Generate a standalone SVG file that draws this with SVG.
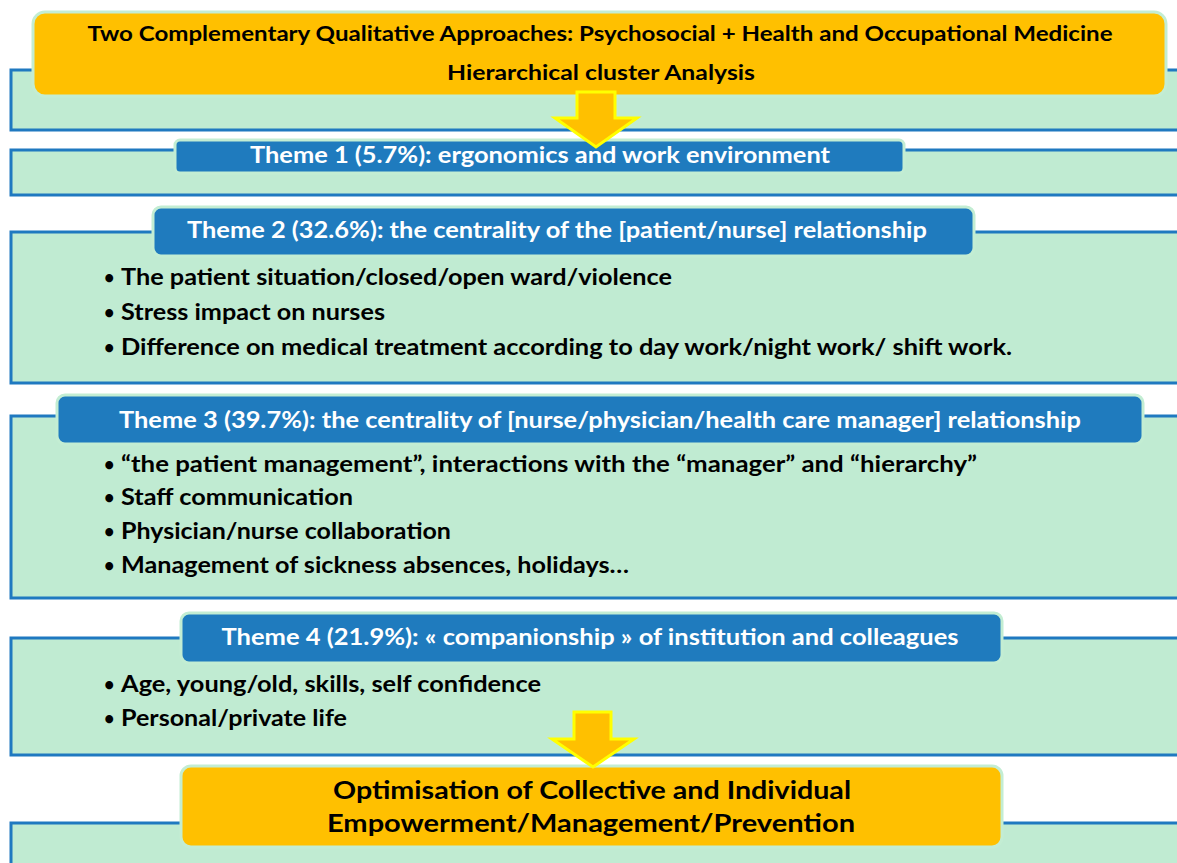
<svg xmlns="http://www.w3.org/2000/svg" width="1177" height="863" viewBox="0 0 1177 863">
<defs>
<style>
.panel{fill:#C0EBD2;stroke:#1F79C0;stroke-width:3}
.theme{fill:#1F7BBE;stroke:#C3EDD3;stroke-width:3}
.gold{fill:#FFC000;stroke:#C3EDD3;stroke-width:3}
.arrow{fill:#FFC000;stroke:#FFFF00;stroke-width:3;stroke-linejoin:miter}
text{font-family:Lato,"Open Sans","Liberation Sans",sans-serif;font-weight:bold}
.tt{fill:#FFFFFF;font-size:22px}
.bt{fill:#000000;font-size:22px}
.dot{fill:#000000;font-size:18px}
.hd{fill:#000000;font-size:20px}
.fn{fill:#000000;font-size:25px}
</style>
</defs>
<rect width="1177" height="863" fill="#FFFFFF"/>
<g id="panels">
<rect class="panel" x="11" y="70" width="1190" height="60"/>
<rect class="panel" x="11" y="150" width="1190" height="45"/>
<rect class="panel" x="11" y="232" width="1190" height="151"/>
<rect class="panel" x="11" y="416" width="1190" height="182"/>
<rect class="panel" x="11" y="638" width="1190" height="117"/>
<rect class="panel" x="11" y="823" width="1190" height="60"/>
</g>
<g id="header">
<rect class="gold" x="33" y="12" width="1133" height="84" rx="12"/>
<text class="hd" x="600" y="41" text-anchor="middle" textLength="1025" lengthAdjust="spacingAndGlyphs">Two Complementary Qualitative Approaches: Psychosocial + Health and Occupational Medicine</text>
<text class="hd" x="601" y="80" text-anchor="middle" textLength="308" lengthAdjust="spacingAndGlyphs">Hierarchical  cluster Analysis</text>
</g>
<g id="theme1">
<rect class="theme" x="175" y="140" width="729" height="33" rx="5"/>
<text class="tt" x="540" y="163" text-anchor="middle" textLength="580" lengthAdjust="spacingAndGlyphs">Theme 1 (5.7%): ergonomics and work environment</text>
</g>
<g id="theme2">
<rect class="theme" x="153" y="207" width="821" height="49" rx="8"/>
<text class="tt" x="557" y="238" text-anchor="middle" textLength="740" lengthAdjust="spacingAndGlyphs">Theme 2 (32.6%): the centrality of the [patient/nurse] relationship</text>
<text class="dot" x="104" y="284">•</text>
<text class="bt" x="121" y="285" textLength="551" lengthAdjust="spacingAndGlyphs">The patient situation/closed/open ward/violence</text>
<text class="dot" x="104" y="319">•</text>
<text class="bt" x="121" y="320" textLength="264" lengthAdjust="spacingAndGlyphs">Stress impact on nurses</text>
<text class="dot" x="104" y="354">•</text>
<text class="bt" x="121" y="355" textLength="891" lengthAdjust="spacingAndGlyphs">Difference on medical  treatment according to day work/night work/ shift work.</text>
</g>
<g id="theme3">
<rect class="theme" x="57" y="395" width="1086" height="49" rx="8"/>
<text class="tt" x="600" y="428" text-anchor="middle" textLength="962" lengthAdjust="spacingAndGlyphs">Theme 3 (39.7%): the centrality of [nurse/physician/health care manager] relationship</text>
<text class="dot" x="104" y="471">•</text>
<text class="bt" x="121" y="472" textLength="856" lengthAdjust="spacingAndGlyphs">“the patient management”, interactions with the “manager” and “hierarchy”</text>
<text class="dot" x="104" y="504">•</text>
<text class="bt" x="121" y="505" textLength="232" lengthAdjust="spacingAndGlyphs">Staff communication</text>
<text class="dot" x="104" y="538">•</text>
<text class="bt" x="121" y="539" textLength="330" lengthAdjust="spacingAndGlyphs">Physician/nurse collaboration</text>
<text class="dot" x="104" y="572">•</text>
<text class="bt" x="121" y="573" textLength="508" lengthAdjust="spacingAndGlyphs">Management of sickness absences, holidays…</text>
</g>
<g id="theme4">
<rect class="theme" x="181" y="613" width="821" height="50" rx="8"/>
<text class="tt" x="590" y="645" text-anchor="middle" textLength="737" lengthAdjust="spacingAndGlyphs">Theme 4 (21.9%): « companionship » of institution and colleagues</text>
<text class="dot" x="104" y="691">•</text>
<text class="bt" x="121" y="692" textLength="420" lengthAdjust="spacingAndGlyphs">Age, young/old, skills, self confidence</text>
<text class="dot" x="104" y="725">•</text>
<text class="bt" x="121" y="726" textLength="226" lengthAdjust="spacingAndGlyphs">Personal/private life</text>
</g>
<g id="outcome">
<rect class="gold" x="181" y="766" width="821" height="81" rx="10"/>
<text class="fn" x="592" y="799" text-anchor="middle" textLength="518" lengthAdjust="spacingAndGlyphs">Optimisation of Collective and Individual</text>
<text class="fn" x="591" y="832" text-anchor="middle" textLength="528" lengthAdjust="spacingAndGlyphs">Empowerment/Management/Prevention</text>
</g>
<g id="connectors">
<polygon class="arrow" points="577,92 615,92 615,118 637,118 596,147 555,118 577,118"/>
<polygon class="arrow" points="574,712 611,712 611,739 634,739 593,767 552,739 574,739"/>
</g>
</svg>
